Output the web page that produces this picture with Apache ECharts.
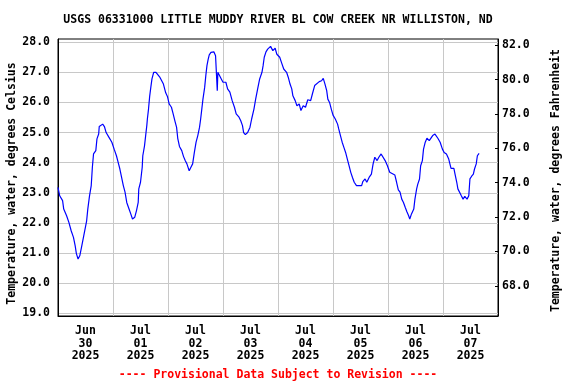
<!DOCTYPE html>
<html>
<head>
<meta charset="utf-8">
<script src="https://cdn.jsdelivr.net/npm/echarts@6/dist/echarts.min.js"></script>
<style>
html,body{margin:0;padding:0;background:#fff;}
#chart{width:576px;height:384px;}
</style>
</head>
<body>
<div id="chart"></div>
<script>
// Hours since 2025-06-30 00:00
const hours = [0,0.75,2,2.5,3.75,4.75,5.75,6.75,7.5,8,8.75,9.5,10.25,11.25,12.5,13,13.75,14.5,15,15.5,16.5,17,17.75,18,18.75,19.5,20.25,21,22.25,23.5,24.5,25.5,26.25,27,27.75,28.5,29.25,30,31,31.75,32.5,33.5,34.25,35,35.25,36,36.75,37,37.75,38.25,38.75,39,39.5,40,40.5,41,41.75,42.75,43.5,44.5,45.25,46,47,47.75,48.5,49.5,50.25,51,51.75,52.25,53,54,54.75,55.5,56.25,57.25,58,58.75,59.5,60.25,61,61.75,62.25,62.75,63.25,64,64.5,65,65.5,66,66.75,67.5,68,68.75,69.25,69.5,69.75,70.5,71.25,72,73.25,74,75,76,77,77.75,79,79.75,80.5,81,81.75,82.75,83.75,84.5,85.5,86.25,87.25,88,89,89.5,90,90.75,91.5,92.75,93.75,94.75,95.5,96.75,97.5,98.5,99.75,100.5,101.25,102,102.5,103.5,104.25,105.25,106,107,108,109,110.25,111,112,112.75,114,115,115.75,116.5,117.25,117.75,118.5,119.25,120,121,122,122.5,123.25,124,124.75,125.5,126.25,127,127.75,128.5,129.25,130.25,131.25,132.5,133,134,134.75,135.75,136.75,137.5,138.25,139.25,140,141,141.75,142.75,143.75,144.75,145.5,147,147.75,148.5,149.25,150,150.75,151.5,152.25,153,153.5,154.25,155.25,155.75,156.5,157,157.75,158.25,159,159.5,160.25,161,162,162.75,163.5,164.5,165,165.75,166.75,167.75,168.5,169.5,170.5,171.5,172.75,173.25,174,174.5,175.25,176,176.75,177.5,178.5,179.25,179.75,180.5,181.25,181.75,182.5,183,183.75];
const tempC = [23.18,22.9,22.74,22.46,22.24,22.02,21.74,21.52,21.24,20.99,20.80,20.91,21.19,21.58,22.07,22.46,22.9,23.24,23.85,24.29,24.4,24.79,24.95,25.2,25.2,25.28,25.2,25.0,24.84,24.68,24.45,24.23,24.01,23.79,23.51,23.24,23.02,22.68,22.46,22.3,22.13,22.19,22.41,22.68,23.13,23.35,23.85,24.23,24.56,24.9,25.23,25.45,25.78,26.2,26.5,26.78,27.0,27.0,26.97,26.83,26.78,26.61,26.32,26.2,25.95,25.84,25.62,25.39,25.17,24.81,24.54,24.4,24.21,24.07,23.96,23.73,23.85,23.96,24.34,24.68,24.9,25.17,25.45,25.78,26.11,26.5,26.89,27.22,27.42,27.58,27.66,27.61,27.68,27.55,26.78,26.39,27.0,26.94,26.78,26.67,26.67,26.45,26.34,26.06,25.84,25.62,25.51,25.39,25.23,25.0,24.93,25.0,25.17,25.45,25.78,26.11,26.5,26.78,27.0,27.22,27.5,27.68,27.77,27.86,27.72,27.8,27.6,27.5,27.33,27.11,27.0,26.83,26.61,26.45,26.22,26.06,25.89,25.95,25.73,25.89,25.84,26.09,26.06,26.28,26.56,26.61,26.69,26.72,26.8,26.61,26.39,26.11,26.0,25.78,25.58,25.45,25.28,25.12,24.9,24.68,24.51,24.34,24.12,23.9,23.68,23.51,23.35,23.24,23.24,23.24,23.37,23.46,23.35,23.51,23.62,23.96,24.18,24.07,24.18,24.29,24.23,24.07,23.9,23.68,23.62,23.59,23.35,23.1,23.02,22.79,22.68,22.52,22.37,22.24,22.13,22.3,22.46,22.79,23.13,23.29,23.46,23.9,24.07,24.45,24.68,24.81,24.73,24.73,24.9,24.95,25.01,24.81,24.68,24.45,24.34,24.29,24.12,23.81,23.81,23.62,23.35,23.13,23.07,22.9,22.79,22.88,22.79,22.9,23.46,23.55,23.62,23.79,23.96,24.23,24.31];
const dayLabels = ['Jun\n30\n2025','Jul\n01\n2025','Jul\n02\n2025','Jul\n03\n2025','Jul\n04\n2025','Jul\n05\n2025','Jul\n06\n2025','Jul\n07\n2025'];
const dayLabelHours = [12,36,60,84,108,132,156,180];
const celsiusTicks = [19,20,21,22,23,24,25,26,27,28];
const fahrenheitTicks = [68,70,72,74,76,78,80,82];

const FONT = '"DejaVu Sans Mono", "Liberation Mono", monospace';
const chart = echarts.init(document.getElementById('chart'), null, {renderer: 'canvas'});
const seriesData = hours.map((h, i) => [h, tempC[i]]);

chart.setOption({
  animation: false,
  backgroundColor: '#ffffff',
  grid: {left: 58, right: 78, top: 39, bottom: 68, show: true, borderColor: '#000', borderWidth: 1, backgroundColor: 'transparent', containLabel: false, outerBoundsMode: 'none'},
  graphic: [
    {type: 'text', x: 278, y: 20, style: {text: 'USGS 06331000 LITTLE MUDDY RIVER BL COW CREEK NR WILLISTON, ND', font: 'bold 11.5px ' + FONT, fill: '#000', align: 'center', verticalAlign: 'middle'}},
    {type: 'text', x: 278, y: 375, style: {text: '---- Provisional Data Subject to Revision ----', font: 'bold 11.5px ' + FONT, fill: '#ff0000', align: 'center', verticalAlign: 'middle'}}
  ],
  xAxis: {
    type: 'value', min: 0, max: 192, interval: 24,
    axisLine: {show: true, lineStyle: {color: '#000', width: 1}},
    axisTick: {show: false},
    splitLine: {show: true, lineStyle: {color: '#c8c8c8', width: 1}},
    axisLabel: {
      customValues: dayLabelHours,
      formatter: function (v) { const i = dayLabelHours.indexOf(v); return i >= 0 ? dayLabels[i] : ''; },
      color: '#000', fontFamily: FONT, fontWeight: 'bold', fontSize: 11.5, lineHeight: 12.5, margin: 9
    }
  },
  yAxis: [
    {
      type: 'value', min: 18.91, max: 28.106, position: 'left',
      name: 'Temperature, water, degrees Celsius', nameLocation: 'middle', nameRotate: 90, nameGap: 40, nameMoveOverlap: false,
      nameTextStyle: {color: '#000', fontFamily: FONT, fontWeight: 'bold', fontSize: 11.5, padding: [0, 12, 0, 0]},
      axisLine: {show: true, lineStyle: {color: '#000'}},
      axisTick: {show: false, customValues: celsiusTicks},
      splitLine: {show: true, lineStyle: {color: '#c8c8c8', width: 1}},
      axisLabel: {customValues: celsiusTicks, formatter: v => v.toFixed(1), color: '#000', fontFamily: FONT, fontWeight: 'bold', fontSize: 11.5, margin: 8}
    },
    {
      type: 'value', min: 66.24, max: 82.37, position: 'right',
      name: 'Temperature, water, degrees Fahrenheit', nameLocation: 'middle', nameRotate: 90, nameGap: 52, nameMoveOverlap: false,
      nameTextStyle: {color: '#000', fontFamily: FONT, fontWeight: 'bold', fontSize: 11.5, padding: [0, 6, 0, 0]},
      axisLine: {show: true, lineStyle: {color: '#000'}},
      axisTick: {show: true, inside: true, length: 3, customValues: fahrenheitTicks, lineStyle: {color: '#000'}},
      splitLine: {show: false},
      axisLabel: {customValues: fahrenheitTicks, formatter: v => v.toFixed(1), color: '#000', fontFamily: FONT, fontWeight: 'bold', fontSize: 11.5, margin: 4}
    }
  ],
  series: [{
    type: 'line', yAxisIndex: 0, data: seriesData, showSymbol: false, symbol: 'none',
    lineStyle: {color: '#0000ff', width: 1.2}, itemStyle: {color: '#0000ff'}
  }]
});
</script>
</body>
</html>
